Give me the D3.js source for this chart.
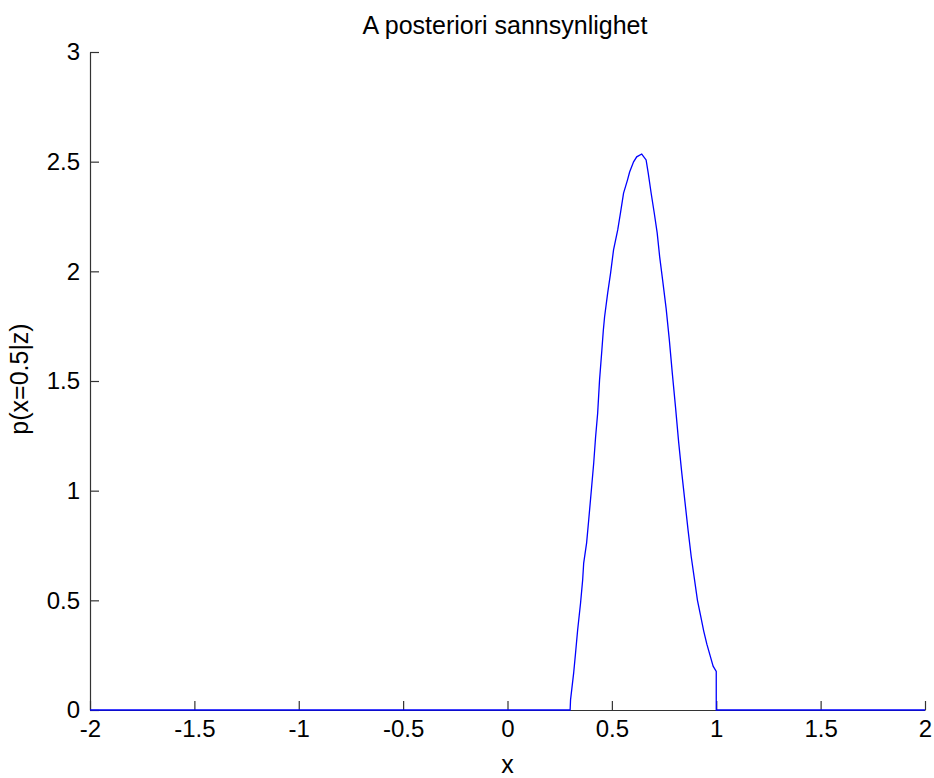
<!DOCTYPE html>
<html>
<head>
<meta charset="utf-8">
<script src="https://cdn.jsdelivr.net/npm/d3@7"></script>
<style>
  body { margin: 0; background: #fff; }
  text { font-family: 'Liberation Sans', Arial, sans-serif; }
</style>
</head>
<body>
<div id="chart"></div>
<script>
// values
const xValues = [-2, 0.3, 0.302, 0.317, 0.326, 0.336, 0.35, 0.36, 0.365, 0.379, 0.389,
  0.403, 0.413, 0.422, 0.432, 0.441, 0.452, 0.459, 0.465, 0.48, 0.494, 0.508,
  0.528, 0.542, 0.556, 0.575, 0.585, 0.604, 0.619, 0.643, 0.664, 0.674, 0.688,
  0.703, 0.717, 0.729, 0.743, 0.76, 0.775, 0.79, 0.805, 0.82, 0.835, 0.85,
  0.865, 0.88, 0.895, 0.91, 0.925, 0.94, 0.955, 0.97, 0.985,
  1.0, 1.0, 2]
const yValues = [0, 0, 0.046, 0.169, 0.26, 0.365, 0.488, 0.593, 0.67, 0.762, 0.866,
  1.017, 1.126, 1.245, 1.354, 1.505, 1.64, 1.73, 1.792, 1.902, 1.993, 2.098,
  2.189, 2.271, 2.357, 2.417, 2.453, 2.499, 2.522, 2.535, 2.508, 2.449, 2.357,
  2.266, 2.175, 2.066, 1.961, 1.83, 1.69, 1.53, 1.38, 1.22, 1.08, 0.95,
  0.82, 0.7, 0.6, 0.5, 0.43, 0.36, 0.3, 0.25, 0.2,
  0.176, 0, 0]

const xTicks = [-2, -1.5, -1, -0.5, 0, 0.5, 1, 1.5, 2]
const yTicks = [0, 0.5, 1, 1.5, 2, 2.5, 3]

const title = 'A posteriori sannsynlighet'
const xLabel = 'x'
const yLabel = 'p(x=0.5|z)'

const margin = { top: 52, right: 9, bottom: 68, left: 90 }
const width = 934 - margin.left - margin.right
const height = 778 - margin.top - margin.bottom

const svg = d3
  .select('#chart')
  .append('svg')
  .attr('width', width + margin.left + margin.right)
  .attr('height', height + margin.top + margin.bottom)

const g = svg
  .append('g')
  .attr('transform', 'translate(' + margin.left + ',' + margin.top + ')')

const xPositionScale = d3.scaleLinear().domain([-2, 2]).range([0, width])
const yPositionScale = d3.scaleLinear().domain([0, 3]).range([height, 0])

const points = xValues.map((x, i) => ({ x: x, y: yValues[i] }))

// axes first, ticks pointing inward like matlab
const xAxis = d3
  .axisBottom(xPositionScale)
  .tickValues(xTicks)
  .tickFormat(d => String(d))
  .tickSizeInner(-9)
  .tickSizeOuter(0)
  .tickPadding(10)

const yAxis = d3
  .axisLeft(yPositionScale)
  .tickValues(yTicks)
  .tickFormat(d => String(d))
  .tickSizeInner(-9)
  .tickSizeOuter(0)
  .tickPadding(10)

g.append('g')
  .attr('class', 'axis x-axis')
  .attr('transform', 'translate(0,' + height + ')')
  .call(xAxis)

g.append('g')
  .attr('class', 'axis y-axis')
  .call(yAxis)

g.selectAll('.axis .domain, .axis line').attr('stroke', '#333').attr('stroke-width', 1.2)
g.selectAll('.axis text')
  .attr('fill', '#000')
  .style('font-size', '24px')
  .style('font-family', "'Liberation Sans', Arial, sans-serif")

const line = d3
  .line()
  .x(d => xPositionScale(d.x))
  .y(d => yPositionScale(d.y))

g.append('path')
  .datum(points)
  .attr('d', line)
  .attr('fill', 'none')
  .attr('stroke', '#0000ff')
  .attr('stroke-width', 1.3)

svg
  .append('text')
  .attr('x', 505)
  .attr('y', 34)
  .attr('text-anchor', 'middle')
  .style('font-size', '25px')
  .text(title)

svg
  .append('text')
  .attr('x', margin.left + xPositionScale(0))
  .attr('y', 773)
  .attr('text-anchor', 'middle')
  .style('font-size', '25px')
  .text(xLabel)

svg
  .append('text')
  .attr('transform', 'translate(28,' + 379 + ') rotate(-90)')
  .attr('text-anchor', 'middle')
  .style('font-size', '25px')
  .text(yLabel)
</script>
</body>
</html>
